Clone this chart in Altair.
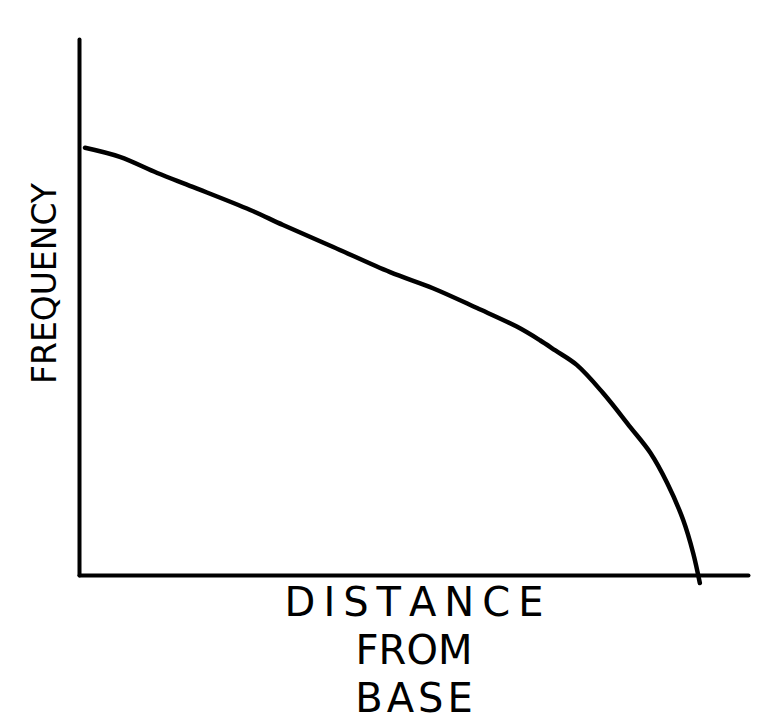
import altair as alt
import pandas as pd

distance = [0.9, 6.1, 11.7, 17.0, 25.6, 30.5, 38.0, 46.5, 52.9, 59.5, 65.5, 68.9,
            71.2, 74.4, 78.3, 82.4, 85.4, 87.9, 90.3, 91.8, 92.8]
frequency = [79.7, 78.0, 75.0, 72.4, 68.1, 65.3, 61.2, 56.5, 53.5, 49.8, 46.3, 43.8,
             41.9, 39.2, 34.0, 27.6, 22.8, 17.2, 10.3, 4.1, -1.5]
T = "\u2009"
x_title = [T.join("DISTANCE"), "FROM", "\u200a".join("BASE")]
y_title = "FREQUENCY"

df = pd.DataFrame({"distance": distance, "frequency": frequency})

FONT = "DejaVu Sans"

chart = alt.Chart(df).mark_line(
    color="black", strokeWidth=4.5, strokeCap="round", strokeJoin="round",
    interpolate="catmull-rom", clip=False
).encode(
    x=alt.X("distance:Q",
            scale=alt.Scale(domain=[0, 100], nice=False, zero=False),
            axis=alt.Axis(title=x_title, domain=True, domainColor="black", domainWidth=4,
                          domainCap="round", ticks=False, labels=False, grid=False,
                          titleFont=FONT, titleFontSize=40, titleFontWeight="normal",
                          titleColor="black", titleLineHeight=48, titlePadding=8)),
    y=alt.Y("frequency:Q",
            scale=alt.Scale(domain=[0, 100], nice=False, zero=False),
            axis=alt.Axis(title=y_title, domain=True, domainColor="black", domainWidth=4,
                          domainCap="round", ticks=False, labels=False, grid=False,
                          titleFont=FONT, titleFontSize=33, titleFontWeight="normal",
                          titleColor="black", titleAngle=270, titleAlign="center",
                          titleBaseline="middle", titleX=-34, titleY=244)),
).properties(
    width=669, height=536,
    autosize=alt.AutoSizeParams(type="none"),
    padding={"left": 71, "top": 31, "right": 8, "bottom": 145},
).configure_view(stroke=None)

chart.save("out.html", embed_options={"renderer": "svg", "actions": False})
